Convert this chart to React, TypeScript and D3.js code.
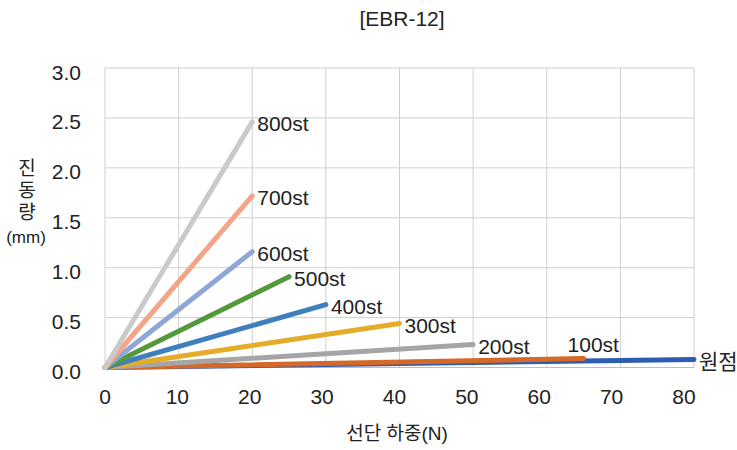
import React from "react";
import * as d3 from "d3";

const title = "[EBR-12]";
const xTicks = [0, 10, 20, 30, 40, 50, 60, 70, 80];
const yTicks = [0, 0.5, 1.0, 1.5, 2.0, 2.5, 3.0];
const seriesNames = ["원점", "100st", "200st", "300st", "400st", "500st", "600st", "700st", "800st"];
const seriesColors = ["#2E5CAF", "#D5692A", "#A5A5A7", "#E4AC27", "#3F7FBE", "#53993C", "#8FA6D8", "#F1A688", "#CACACA"];
const seriesX = [
  [0, 80],
  [0, 65],
  [0, 50],
  [0, 40],
  [0, 30],
  [0, 25],
  [0, 20],
  [0, 20],
  [0, 20],
];
const seriesY = [
  [0, 0.08],
  [0, 0.09],
  [0, 0.23],
  [0, 0.44],
  [0, 0.63],
  [0, 0.91],
  [0, 1.16],
  [0, 1.72],
  [0, 2.46],
];

const FONT = "'Liberation Sans', Arial, 'Noto Sans CJK KR', sans-serif";

export default function App() {
  const W = 737, H = 450;
  const x = d3.scaleLinear().domain([0, 80]).range([105, 694]);
  const xl = d3.scaleLinear().domain([0, 80]).range([105, 684]);
  const y = d3.scaleLinear().domain([0, 3]).range([367.5, 68]);
  const line = d3.line<[number, number]>().x(d => x(d[0])).y(d => y(d[1]));

  return (
    <svg width={W} height={H} style={{ position: "absolute", left: 0, top: 0, background: "#fff" }} fontFamily={FONT}>
      <rect width={W} height={H} fill="#fff" />
      <text x={402} y={18} textAnchor="middle" dominantBaseline="central" fontSize={21} fill="#222">{title}</text>
      {xTicks.map(t => (
        <line key={"gx" + t} x1={x(t)} x2={x(t)} y1={y(3)} y2={y(0)} stroke="#cfcfcf" strokeWidth={1} />
      ))}
      {yTicks.map(t => (
        <line key={"gy" + t} x1={x(0)} x2={x(80)} y1={y(t)} y2={y(t)} stroke={t === 0 ? "#bdbdbd" : "#cfcfcf"} strokeWidth={1} />
      ))}
      {yTicks.map(t => (
        <text key={"ty" + t} x={81} y={y(t) + 4} textAnchor="end" dominantBaseline="central" fontSize={21} fill="#222">{t.toFixed(1)}</text>
      ))}
      {xTicks.map(t => (
        <text key={"tx" + t} x={xl(t)} y={396} textAnchor="middle" dominantBaseline="central" fontSize={21} fill="#222">{t}</text>
      ))}
      <text x={397} y={433} textAnchor="middle" dominantBaseline="central" fontSize={19} fill="#222">선단 하중(N)</text>
      {["진", "동", "량"].map((c, i) => (
        <text key={c} x={27} y={168 + i * 22} textAnchor="middle" dominantBaseline="central" fontSize={19} fill="#222">{c}</text>
      ))}
      <text x={26} y={237} textAnchor="middle" dominantBaseline="central" fontSize={17} fill="#222">(mm)</text>
      {seriesNames.map((n, i) => {
        const pts = seriesX[i].map((v, j) => [v, seriesY[i][j]] as [number, number]);
        return (
          <path key={n} d={line(pts) || ""} fill="none" stroke={seriesColors[i]} strokeWidth={5} strokeLinecap="round" />
        );
      })}
      {seriesNames.map((n, i) => {
        const last = seriesX[i].length - 1;
        const ex = x(seriesX[i][last]);
        const ey = y(seriesY[i][last]);
        const above = n === "100st";
        return (
          <text key={"l" + n} x={above ? ex - 16 : ex + 5} y={above ? ey - 14 : ey + 2} dominantBaseline="central" fontSize={21} fill="#222">{n}</text>
        );
      })}
    </svg>
  );
}
